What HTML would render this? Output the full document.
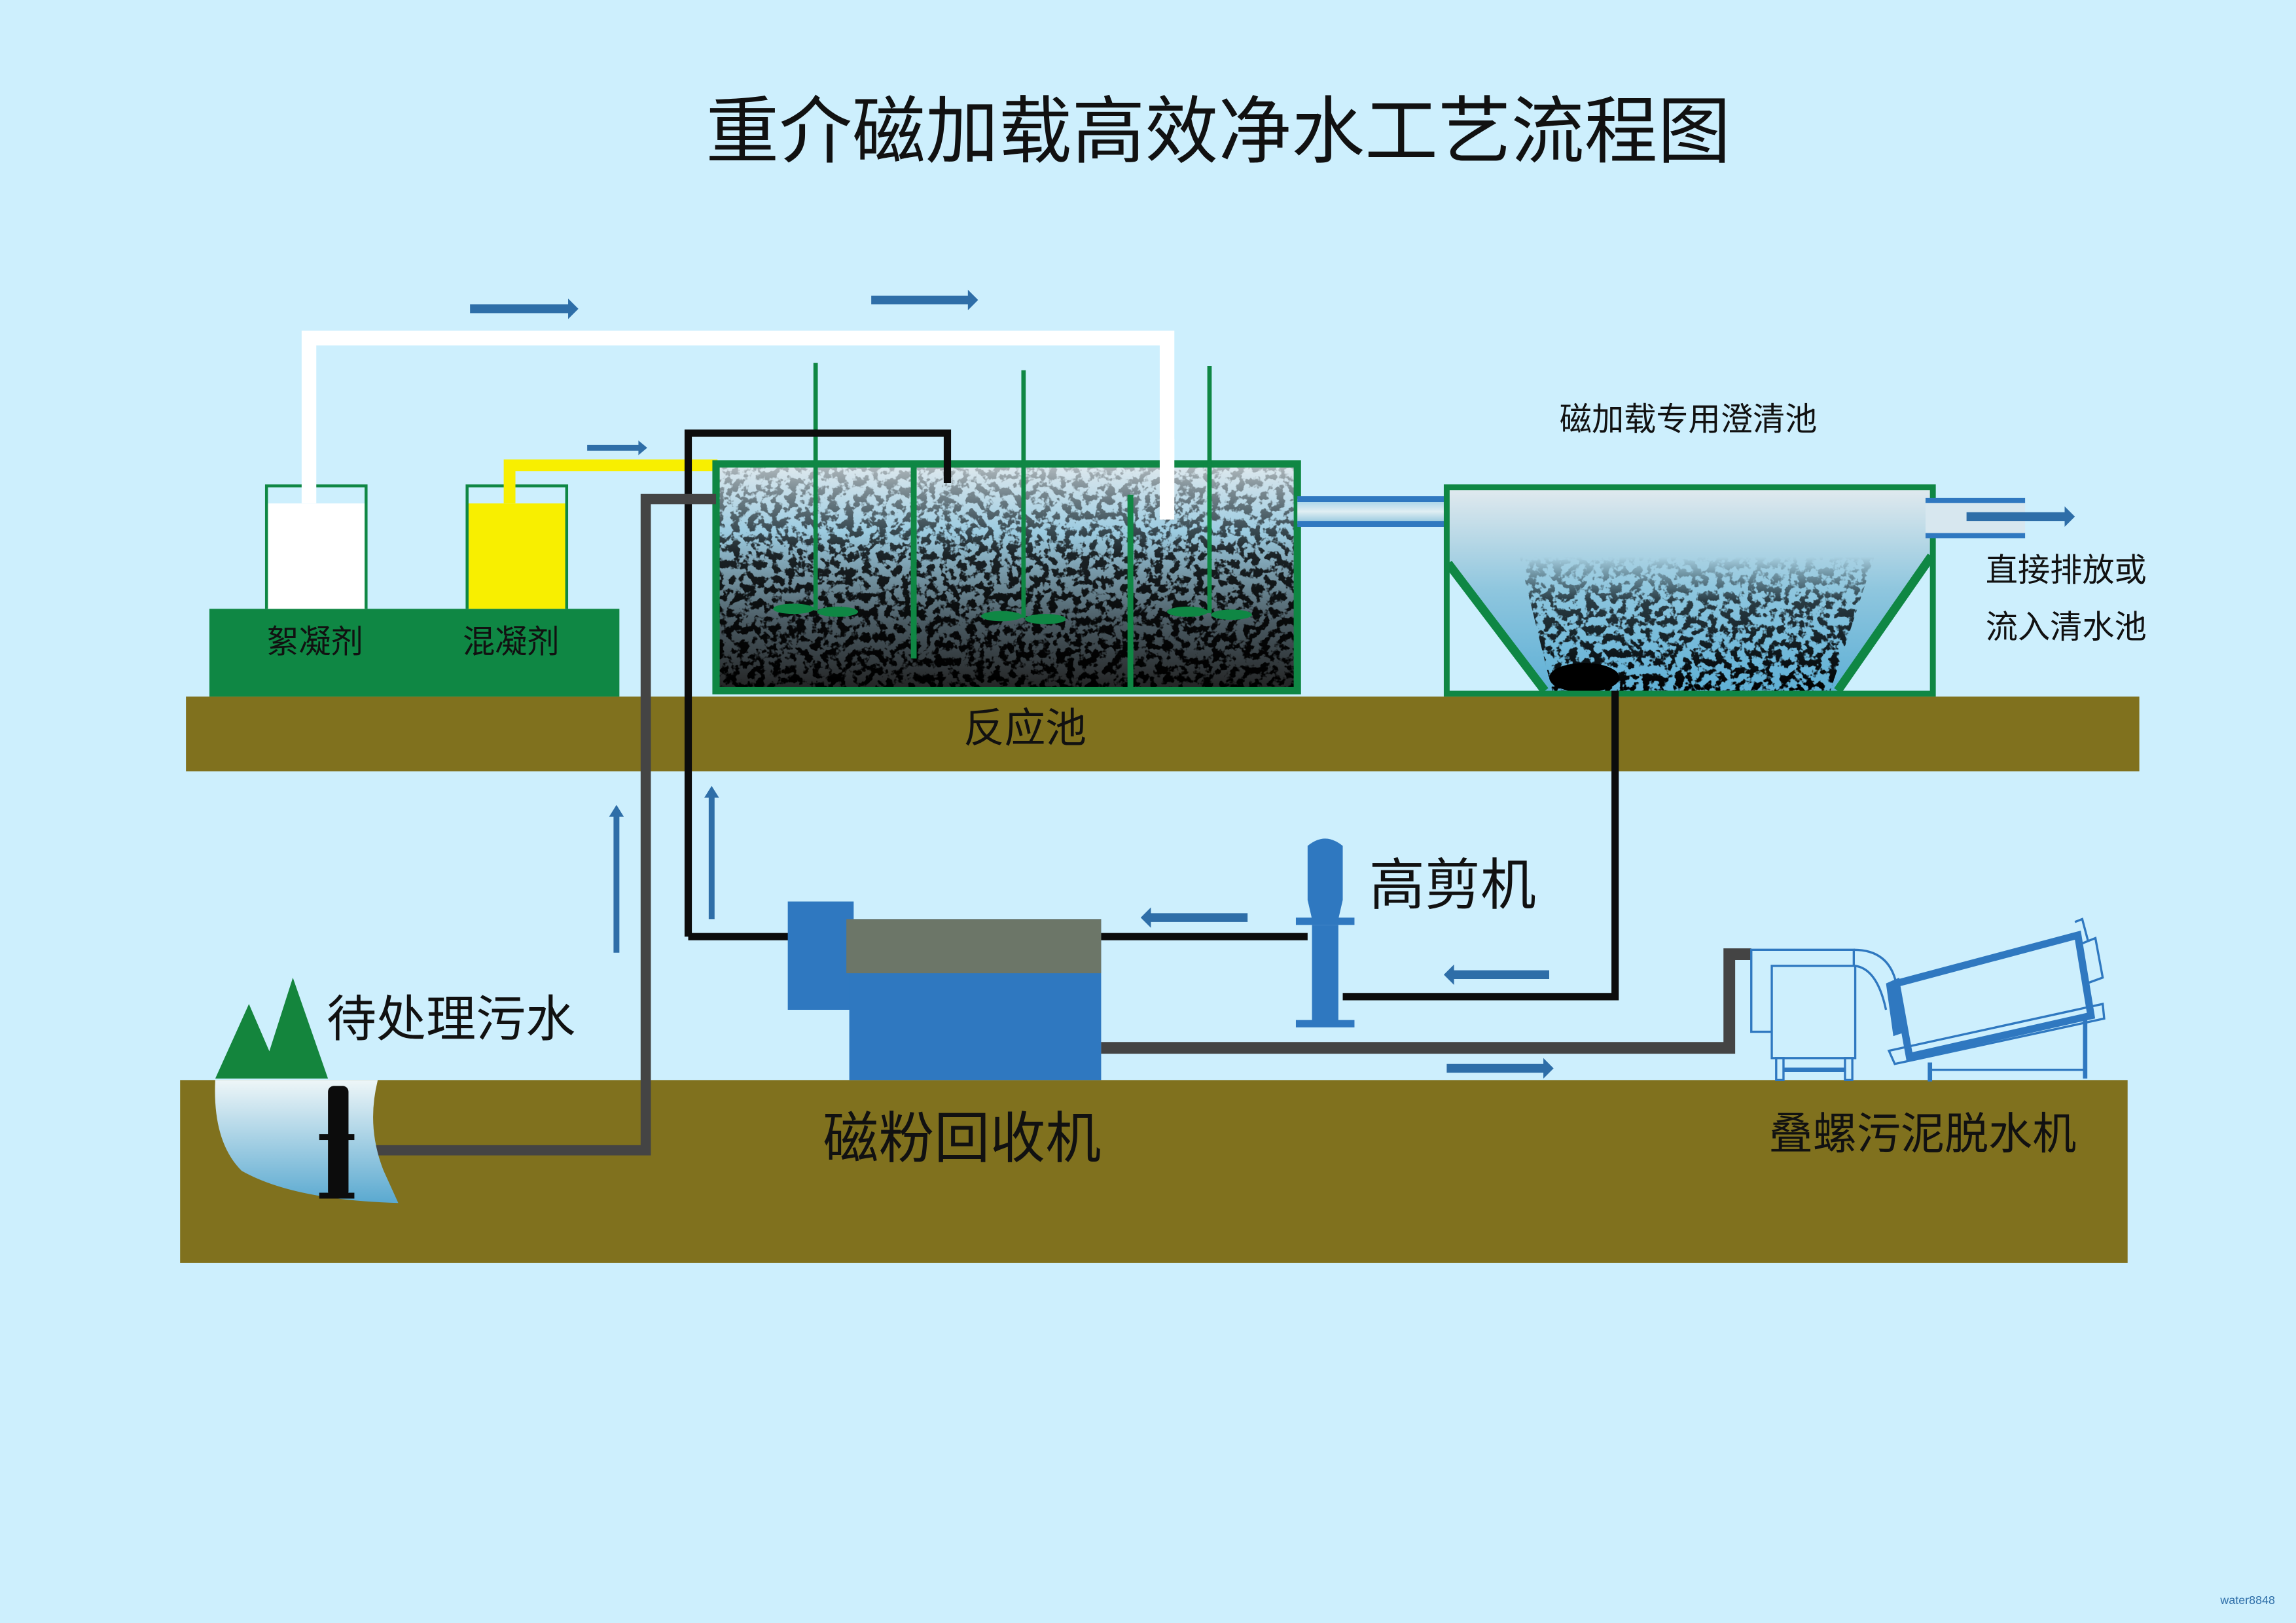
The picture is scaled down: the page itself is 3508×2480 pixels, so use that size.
<!DOCTYPE html>
<html><head><meta charset="utf-8"><style>
html,body{margin:0;padding:0;background:#cdeffd;}
svg{display:block}
text{font-family:"Liberation Sans","Noto Sans CJK SC","WenQuanYi Zen Hei",sans-serif;fill:#111}
</style></head><body>
<svg width="3508" height="2480" viewBox="0 0 1568 1109" preserveAspectRatio="none" xmlns="http://www.w3.org/2000/svg">
<defs>
<linearGradient id="rg" x1="0" y1="0" x2="0" y2="1">
<stop offset="0" stop-color="#dfe9ee"/><stop offset="0.3" stop-color="#9ccbe0"/><stop offset="0.7" stop-color="#4a5a62"/><stop offset="1" stop-color="#222"/></linearGradient>
<linearGradient id="cg" x1="0" y1="0" x2="0" y2="1">
<stop offset="0" stop-color="#dfe9ee"/><stop offset="0.5" stop-color="#8ec6de"/><stop offset="1" stop-color="#5fb0d6"/></linearGradient>
<linearGradient id="pg" x1="0" y1="0" x2="0" y2="1">
<stop offset="0" stop-color="#9fd0e6"/><stop offset="0.5" stop-color="#e0eef3"/><stop offset="1" stop-color="#8cc3dc"/></linearGradient>
<linearGradient id="pond" x1="0" y1="0" x2="0" y2="1">
<stop offset="0" stop-color="#eef6f8"/><stop offset="1" stop-color="#5aa9d0"/></linearGradient>
<linearGradient id="mr" x1="0" y1="0" x2="0" y2="1">
<stop offset="0" stop-color="#fff" stop-opacity="0.2"/><stop offset="0.4" stop-color="#fff" stop-opacity="0.8"/><stop offset="1" stop-color="#fff" stop-opacity="1"/></linearGradient>
<linearGradient id="mc" x1="0" y1="0" x2="0" y2="1">
<stop offset="0" stop-color="#fff" stop-opacity="0"/><stop offset="0.25" stop-color="#fff" stop-opacity="0"/><stop offset="0.5" stop-color="#fff" stop-opacity="0.7"/><stop offset="1" stop-color="#fff" stop-opacity="1"/></linearGradient>
<mask id="mrm"><rect x="490" y="318" width="396" height="153" fill="url(#mr)"/></mask>
<mask id="mcm"><path d="M1030,350 H1290 L1250,472 H1060 Z" fill="url(#mc)"/></mask>
<filter id="sp" x="0" y="0" width="1" height="1">
<feTurbulence type="fractalNoise" baseFrequency="0.18" numOctaves="3" seed="5"/>
<feColorMatrix type="matrix" values="0 0 0 0 0  0 0 0 0 0  0 0 0 0 0  -10 0 0 0 5.3"/>
</filter>
</defs>
<rect width="1568" height="1109" fill="#cdeffd"/>
<text x="832" y="107" font-size="50" text-anchor="middle">重介磁加载高效净水工艺流程图</text>

<rect x="127" y="476" width="1334" height="51" fill="#80711e"/>
<rect x="123" y="738" width="1330" height="125" fill="#80711e"/>

<rect x="143" y="416" width="280" height="60" fill="#0f8744"/>
<text x="215" y="446" font-size="22" text-anchor="middle">絮凝剂</text>
<text x="349" y="446" font-size="22" text-anchor="middle">混凝剂</text>
<rect x="182" y="344" width="68" height="72" fill="#fff"/>
<path d="M182,416 V332 H250 V416" fill="none" stroke="#0f8744" stroke-width="2"/>
<rect x="319" y="344" width="68" height="72" fill="#f8ef00"/>
<path d="M319,416 V332 H387 V416" fill="none" stroke="#0f8744" stroke-width="2"/>
<path d="M211,344 V231 H797 V355" fill="none" stroke="#fff" stroke-width="10"/>
<path d="M348,344 V318 H490" fill="none" stroke="#f8ef00" stroke-width="8"/>

<rect x="489" y="317" width="397" height="155" fill="url(#rg)"/>
<rect x="489" y="317" width="397" height="155" fill="#000" filter="url(#sp)" mask="url(#mrm)"/>
<rect x="489" y="317" width="397" height="155" fill="none" stroke="#0f8744" stroke-width="5"/>
<line x1="624" y1="318" x2="624" y2="450" stroke="#0f8744" stroke-width="4"/>
<line x1="772" y1="338" x2="772" y2="473" stroke="#0f8744" stroke-width="4"/>
<g stroke="#0f8744" stroke-width="3">
<line x1="557" y1="248" x2="557" y2="417"/><line x1="699" y1="253" x2="699" y2="422"/><line x1="826" y1="250" x2="826" y2="419"/></g>
<g fill="#0f8744">
<ellipse cx="542" cy="416" rx="14" ry="3.5"/><ellipse cx="572" cy="418" rx="14" ry="3.5"/>
<ellipse cx="684" cy="421" rx="14" ry="3.5"/><ellipse cx="714" cy="423" rx="14" ry="3.5"/>
<ellipse cx="811" cy="418" rx="14" ry="3.5"/><ellipse cx="841" cy="420" rx="14" ry="3.5"/></g>
<rect x="792" y="300" width="10" height="55" fill="#fff"/>
<text x="700" y="507" font-size="28" text-anchor="middle">反应池</text>

<path d="M470,640 V296 H647 V330" fill="none" stroke="#0c0c0c" stroke-width="5"/>
<path d="M470,640 H540" fill="none" stroke="#0c0c0c" stroke-width="5"/>
<path d="M230,786 H441 V341 H489" fill="none" stroke="#444" stroke-width="7"/>

<rect x="886" y="341" width="102" height="17" fill="url(#pg)"/>
<line x1="886" y1="341" x2="988" y2="341" stroke="#2f78c0" stroke-width="4"/>
<line x1="886" y1="358" x2="988" y2="358" stroke="#2f78c0" stroke-width="4"/>

<path d="M989,335 H1319 V380 L1255,472 H1055 L989,385 Z" fill="url(#cg)"/>
<path d="M989,335 H1319 V380 L1255,472 H1055 L989,385 Z" fill="#000" filter="url(#sp)" mask="url(#mcm)"/>
<ellipse cx="1082" cy="463" rx="24" ry="10" fill="#000"/>
<rect x="988" y="333" width="332" height="141" fill="none" stroke="#0f8744" stroke-width="4"/>
<path d="M989,385 L1055,472 M1319,380 L1255,472" stroke="#0f8744" stroke-width="6"/>
<rect x="1315" y="343" width="68" height="22" fill="#d7e7ef"/>
<line x1="1315" y1="342" x2="1383" y2="342" stroke="#2f78c0" stroke-width="3.5"/>
<line x1="1315" y1="366" x2="1383" y2="366" stroke="#2f78c0" stroke-width="3.5"/>
<text x="1153" y="294" font-size="22" text-anchor="middle">磁加载专用澄清池</text>
<text x="1411" y="397" font-size="22" text-anchor="middle">直接排放或</text>
<text x="1411" y="436" font-size="22" text-anchor="middle">流入清水池</text>

<path d="M1103,472 V681 H917" fill="none" stroke="#0c0c0c" stroke-width="5"/>
<line x1="893" y1="640" x2="752" y2="640" stroke="#0c0c0c" stroke-width="5"/>

<g fill="#2f78c0">
<path d="M893,578 Q905,568 917,578 V615 L914,628 H896 L893,615 Z"/>
<rect x="885" y="627" width="40" height="5"/>
<rect x="896" y="632" width="18" height="66"/>
<rect x="885" y="697" width="40" height="5"/></g>
<text x="992" y="618" font-size="38" text-anchor="middle">高剪机</text>

<rect x="538" y="616" width="45" height="74" fill="#2f78c0"/>
<rect x="580" y="628" width="172" height="110" fill="#2f78c0"/>
<rect x="578" y="628" width="174" height="37" fill="#6c7668"/>
<text x="657" y="791" font-size="38" text-anchor="middle">磁粉回收机</text>

<path d="M752,716 H1181 V652 H1196" fill="none" stroke="#444" stroke-width="8"/>

<g fill="none" stroke="#2f78c0" stroke-width="1.5">
<path d="M1210,705 H1196 V649 H1266 V660"/>
<rect x="1210" y="660" width="57" height="63"/>
<rect x="1213" y="723" width="5" height="15"/><rect x="1260" y="723" width="5" height="15"/>
<line x1="1218" y1="731" x2="1260" y2="731" stroke-width="3"/>
<path d="M1266,649 Q1290,649 1295,672 M1267,660 Q1282,662 1288,690"/>
<path d="M1295,672 L1419,639 L1428,694 L1304,722 Z" stroke-width="5"/>
<path d="M1290,718 L1436,686 L1437,696 L1294,727 Z"/>
<line x1="1318" y1="726" x2="1318" y2="739" stroke-width="3"/>
<line x1="1424" y1="696" x2="1424" y2="737" stroke-width="3"/>
<line x1="1318" y1="731" x2="1424" y2="731"/>
<path d="M1421,645 L1431,641 L1436,668 L1425,672"/>
<path d="M1417,630 L1422,628 L1426,643"/></g>
<path d="M1288,672 L1297,668 L1302,705 L1293,708 Z" fill="#2f78c0"/>
<text x="1313" y="785" font-size="30" text-anchor="middle">叠螺污泥脱水机</text>

<path d="M147,737 L170,686 L192,737 Z M178,737 L200,668 L224,737 Z" fill="#14853d"/>
<path d="M147,738 H258 Q250,770 262,800 L272,822 Q200,820 165,800 Q145,780 147,738 Z" fill="url(#pond)"/>
<rect x="224" y="742" width="14" height="76" rx="4" fill="#0c0c0c"/>
<rect x="218" y="775" width="24" height="4" fill="#0c0c0c"/>
<rect x="218" y="815" width="24" height="4" fill="#0c0c0c"/>
<text x="308" y="708" font-size="34" text-anchor="middle">待处理污水</text>

<g fill="#2e6ea8">
<path d="M321,208 H388 V204 L395,211 L388,218 V214 H321 Z"/>
<path d="M595,202 H661 V198 L668,205 L661,212 V208 H595 Z"/>
<path d="M401,304 H436 V301 L442,306 L436,311 V308 H401 Z"/>
<path d="M419,651 V558 H416 L421,550 L426,558 H423 V651 Z"/>
<path d="M484,628 V545 H481 L486,537 L491,545 H488 V628 Z"/>
<path d="M852,624 H786 V620 L779,627 L786,634 V630 H852 Z"/>
<path d="M1058,663 H993 V659 L986,666 L993,673 V669 H1058 Z"/>
<path d="M988,727 H1054 V723 L1061,730 L1054,737 V733 H988 Z"/>
<path d="M1343,350 H1410 V346 L1417,353 L1410,360 V356 H1343 Z"/>
</g>
<text x="1535" y="1096" font-size="8" text-anchor="middle" style="fill:#2e6ea8">water8848</text>
</svg>
</body></html>
